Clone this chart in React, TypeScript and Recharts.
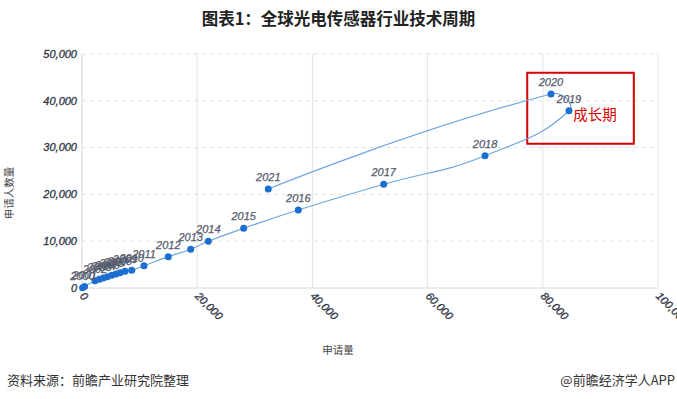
import React from 'react';
import { LineChart, Line, XAxis, YAxis, CartesianGrid, LabelList, ReferenceArea, Label } from 'recharts';

const years = [2000, 2001, 2002, 2003, 2004, 2005, 2006, 2007, 2008, 2009, 2010, 2011, 2012, 2013, 2014, 2015, 2016, 2017, 2018, 2019, 2020, 2021];
const applications = [100, 450, 2260, 3000, 3700, 4400, 5160, 5900, 6600, 7470, 8630, 10760, 14980, 18870, 21930, 28070, 37550, 52380, 69970, 84550, 81420, 32340];
const applicants = [40, 320, 1560, 1860, 2140, 2410, 2710, 2990, 3270, 3570, 3780, 4760, 6690, 8270, 9980, 12760, 16670, 22160, 28270, 37880, 41450, 21150];
const xTicks = [0, 20000, 40000, 60000, 80000, 100000];
const yTicks = [0, 10000, 20000, 30000, 40000, 50000];
const growthBox = { x1: 77300, x2: 95800, y1: 30800, y2: 46000, label: '成长期' };

const data = years.map((year, i) => ({ year, x: applications[i], y: applicants[i] }));

const fmt = (v: number) => v.toLocaleString('en-US');
const tickFont = 'Liberation Sans, Arial, sans-serif';

// Smooth spline passing through every point (control points scaled by neighbour distances)
const smoothCurve = (context: any) => {
  let pts: number[][] = [];
  const s = 0.5;
  return {
    areaStart() {},
    areaEnd() {},
    lineStart() { pts = []; },
    point(x: number, y: number) { pts.push([+x, +y]); },
    lineEnd() {
      const n = pts.length;
      if (!n) return;
      const cIn: number[][] = [];
      const cOut: number[][] = [];
      for (let i = 0; i < n; i++) {
        const p = pts[i];
        if (i === 0 || i === n - 1) { cIn.push(p); cOut.push(p); continue; }
        const prev = pts[i - 1];
        const next = pts[i + 1];
        const vx = next[0] - prev[0];
        const vy = next[1] - prev[1];
        let dp = Math.hypot(p[0] - prev[0], p[1] - prev[1]);
        let dn = Math.hypot(p[0] - next[0], p[1] - next[1]);
        const sum = dp + dn;
        if (sum > 0) { dp /= sum; dn /= sum; }
        cIn.push([p[0] - vx * s * dp, p[1] - vy * s * dp]);
        cOut.push([p[0] + vx * s * dn, p[1] + vy * s * dn]);
      }
      context.moveTo(pts[0][0], pts[0][1]);
      for (let i = 0; i < n - 1; i++) {
        const a = cOut[i];
        const b = cIn[i + 1];
        const q = pts[i + 1];
        context.bezierCurveTo(a[0], a[1], b[0], b[1], q[0], q[1]);
      }
    },
  };
};

const XTick = (props: any) => {
  const { x, y, payload } = props;
  const ty = y + 4;
  return (
    <text x={x} y={ty} dy="0.35em" transform={`rotate(45 ${x} ${ty})`} textAnchor="start"
      fontFamily={tickFont} fontStyle="italic" fontSize={11} fill="#2f3546" stroke="#2f3546" strokeWidth={0.3}>
      {fmt(payload.value)}
    </text>
  );
};

const YTick = (props: any) => {
  const { x, y, payload } = props;
  return (
    <text x={x} y={y} dy="0.35em" textAnchor="end"
      fontFamily={tickFont} fontStyle="italic" fontSize={11} fill="#2f3546" stroke="#2f3546" strokeWidth={0.3}>
      {fmt(payload.value)}
    </text>
  );
};

const BoxLabel = (props: any) => {
  const vb = props.viewBox || {};
  return (
    <text x={vb.x + 46} y={vb.y + 42} dy="0.35em" textAnchor="start"
      fontFamily="Noto Sans CJK SC, sans-serif" fontSize={14.5} fill="#d40000">
      {growthBox.label}
    </text>
  );
};

export default function App() {
  return (
    <div style={{ position: 'absolute', left: 0, top: 0, width: 677, height: 399, background: '#fff', fontFamily: 'Noto Sans CJK SC, sans-serif' }}>
      <div style={{ position: 'absolute', left: 0, width: 677, top: 6, textAlign: 'center', fontSize: 16.5, fontWeight: 'bold', color: '#222' }}>
        图表1：全球光电传感器行业技术周期
      </div>
      <LineChart width={677} height={399} data={data} margin={{ top: 54, right: 19, bottom: 41, left: 0 }}>
        <CartesianGrid vertical={false} strokeDasharray="4 4" stroke="#e2e2e2" />
        <CartesianGrid horizontal={false} stroke="#e4e4e4" />
        <XAxis type="number" dataKey="x" domain={[0, 100000]} ticks={xTicks} height={70}
          tick={<XTick />} tickLine={false} tickSize={0} axisLine={{ stroke: '#dedede' }} interval={0}>
          <Label value="申请量" position="insideBottom" offset={4} dx={-32}
            style={{ fontFamily: 'Noto Sans CJK SC, sans-serif', fontSize: 10.5, fill: '#444' }} />
        </XAxis>
        <YAxis type="number" dataKey="y" domain={[0, 50000]} ticks={yTicks} width={82}
          tick={<YTick />} tickLine={false} tickSize={0} tickMargin={5} axisLine={{ stroke: '#e2e2e2' }} interval={0}>
          <Label value="申请人数量" position="center" angle={-90} dx={-32} dy={22}
            style={{ fontFamily: 'Noto Sans CJK SC, sans-serif', fontSize: 10.5, fill: '#444' }} />
        </YAxis>
        <ReferenceArea x1={growthBox.x1} x2={growthBox.x2} y1={growthBox.y1} y2={growthBox.y2}
          fill="none" fillOpacity={0} stroke="#d40000" strokeWidth={2} ifOverflow="visible"
          label={<BoxLabel />} />
        <Line type={smoothCurve as any} dataKey="y" stroke="#6fa6de" strokeWidth={1.2}
          dot={{ r: 3.5, fill: '#1c6fd0', stroke: '#1c6fd0', strokeWidth: 0 }}
          activeDot={false} isAnimationActive={false}>
          <LabelList dataKey="year" position="top" offset={8}
            style={{ fontFamily: tickFont, fontStyle: 'italic', fontSize: 11, fill: '#555b6c', stroke: '#555b6c', strokeWidth: 0.25 }} />
        </Line>
      </LineChart>
      <div style={{ position: 'absolute', left: 7, top: 370, fontSize: 13, color: '#333' }}>资料来源：前瞻产业研究院整理</div>
      <div style={{ position: 'absolute', right: 2, top: 370, fontSize: 13, color: '#333' }}>@前瞻经济学人APP</div>
    </div>
  );
}
